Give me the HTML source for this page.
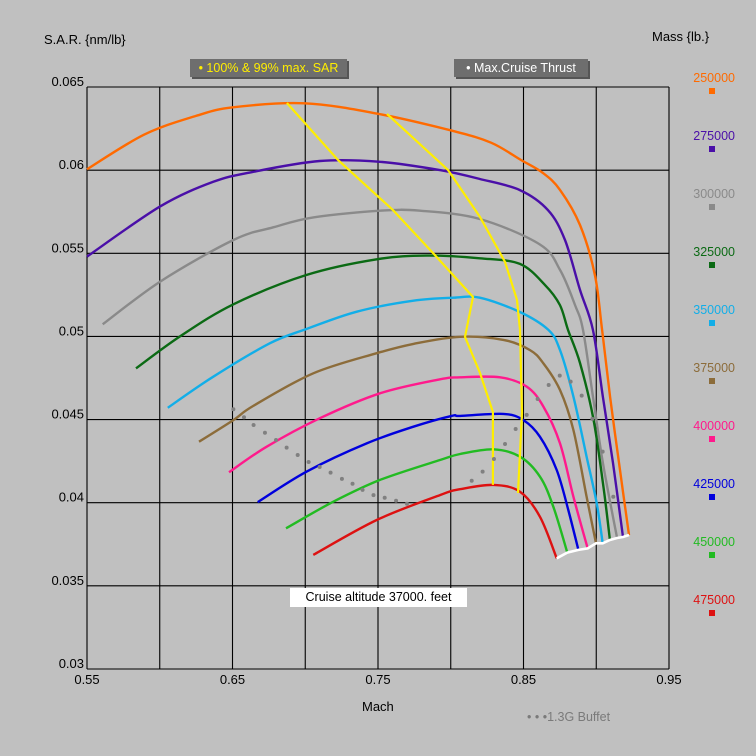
<!DOCTYPE html>
<html><head><meta charset="utf-8">
<style>
html,body{margin:0;padding:0;background:#c0c0c0;}
svg{display:block;font-family:"Liberation Sans",sans-serif;}
</style></head>
<body>
<svg id="chart" width="756" height="756" viewBox="0 0 756 756">
<rect width="756" height="756" fill="#c0c0c0"/>
<g id="grid"></g>
<g id="series"></g>
<g id="labels"></g>
</svg>
<script>
const xTicks=[0.55,0.60,0.65,0.70,0.75,0.80,0.85,0.90,0.95];
const xTickLabels=["0.55","","0.65","","0.75","","0.85","","0.95"];
const yTicks=[0.03,0.035,0.04,0.045,0.05,0.055,0.06,0.065];
const yTickLabels=["0.03","0.035","0.04","0.045","0.05","0.055","0.06","0.065"];
const masses=["250000","275000","300000","325000","350000","375000","400000","425000","450000","475000"];
const colors=["#ff6a00","#4a0fa8","#8a8a8a","#0b6a14","#12aee8","#8c6c3a","#ff1a8c","#0000dd","#22bb22","#dd1111"];
const m250=[0.55,0.5892,0.6249,0.6503,0.6995,0.75,0.8009,0.8277,0.8483,0.8634,0.8751,0.8888,0.8991,0.904,0.9095,0.9163,0.9225];
const s250=[0.06005,0.06213,0.06326,0.06378,0.06402,0.06339,0.06237,0.06165,0.06061,0.05983,0.05881,0.0567,0.05369,0.05039,0.04636,0.04197,0.03806];
const m275=[0.55,0.600,0.6368,0.6643,0.710,0.7514,0.7926,0.820,0.8475,0.8668,0.8785,0.8888,0.8977,0.9046,0.9115,0.9184];
const s275=[0.0548,0.0578,0.0593,0.0599,0.06055,0.0605,0.0600,0.05947,0.0588,0.0576,0.0558,0.0528,0.0504,0.04636,0.04239,0.03794];
const m300=[0.5608,0.6002,0.6506,0.678,0.7055,0.7514,0.7789,0.82,0.8613,0.8751,0.8854,0.8909,0.8978,0.9046,0.9143];
const s300=[0.05073,0.05329,0.0558,0.05656,0.05716,0.05756,0.05756,0.05706,0.05553,0.054,0.05189,0.05039,0.04636,0.04239,0.03788];
const m325=[0.5837,0.6139,0.6506,0.701,0.7491,0.7835,0.82,0.8475,0.8647,0.875,0.8806,0.8888,0.8978,0.9046,0.9094];
const s325=[0.04808,0.05,0.05193,0.0537,0.05464,0.05486,0.0547,0.05436,0.0531,0.05189,0.05039,0.0484,0.04516,0.04119,0.03776];
const m350=[0.6055,0.6368,0.6758,0.701,0.7354,0.7743,0.8018,0.82,0.8475,0.8671,0.8751,0.8843,0.8934,0.9003,0.9044];
const s350=[0.04571,0.04758,0.04959,0.05045,0.05149,0.05215,0.05233,0.05233,0.05147,0.05039,0.04918,0.04638,0.04277,0.03997,0.03756];
const m375=[0.627,0.6506,0.6643,0.7055,0.7491,0.7743,0.8064,0.8362,0.8545,0.8637,0.8751,0.8843,0.8934,0.8998];
const s375=[0.04367,0.04497,0.04582,0.04778,0.04899,0.04955,0.04998,0.04979,0.04918,0.04838,0.04678,0.04437,0.04036,0.03756];
const m400=[0.6476,0.6735,0.7101,0.7514,0.7926,0.8064,0.8339,0.8522,0.8637,0.8751,0.8843,0.8941];
const s400=[0.04183,0.04337,0.04508,0.04658,0.04742,0.04754,0.04754,0.04698,0.04578,0.04357,0.04036,0.03725];
const m425=[0.6673,0.701,0.7422,0.7743,0.8006,0.8064,0.8362,0.8499,0.8613,0.8728,0.8808,0.8877];
const s425=[0.04003,0.04187,0.04357,0.04457,0.04522,0.04522,0.04534,0.04497,0.04397,0.04197,0.03956,0.03716];
const m450=[0.6868,0.7193,0.7514,0.7926,0.8064,0.8293,0.8476,0.8613,0.8705,0.8801];
const s450=[0.03846,0.04006,0.04137,0.04257,0.04293,0.04321,0.04277,0.04157,0.03976,0.037];
const m475=[0.7055,0.7491,0.7926,0.8064,0.8293,0.8476,0.8613,0.8728];
const s475=[0.03686,0.03896,0.04046,0.04081,0.04107,0.04066,0.03916,0.03666];
const machSeries=[m250,m275,m300,m325,m350,m375,m400,m425,m450,m475];
const sarSeries=[s250,s275,s300,s325,s350,s375,s400,s425,s450,s475];
const maxSarMach=[0.6874,0.7225,0.7603,0.7878,0.8153,0.8098,0.8201,0.829,0.829];
const maxSarVal=[0.06404,0.06061,0.0576,0.05502,0.05237,0.04997,0.0478,0.04546,0.04107];
const sar99Mach=[0.7562,0.7981,0.8201,0.8373,0.8455,0.8476,0.849,0.8462];
const sar99Val=[0.06338,0.06001,0.05718,0.05448,0.05219,0.05039,0.0454,0.04058];
const buffetMach=[0.6506,0.6579,0.6645,0.6723,0.6799,0.6872,0.6948,0.7023,0.7099,0.7174,0.7252,0.7325,0.7394,0.7469,0.7546,0.7624,0.7699,
 0.8144,0.8219,0.8297,0.8373,0.8446,0.8522,0.8597,0.8673,0.8749,0.8824,0.8900,0.8973,0.9044,0.9117];
const buffetSar=[0.04562,0.04514,0.04467,0.04421,0.04377,0.04331,0.04287,0.04245,0.04215,0.04181,0.04143,0.04114,0.04077,0.04046,0.0403,0.04012,0.03994,
 0.04132,0.04187,0.04263,0.04353,0.04443,0.04528,0.04624,0.04708,0.04764,0.04728,0.04644,0.04504,0.04307,0.04036];

const X0=87,X1=669,Y0=669,Y1=87;
function xs(m){return X0+(m-0.55)/0.4*(X1-X0);}
function ys(s){return Y0-(s-0.03)/0.035*(Y0-Y1);}
const NS="http://www.w3.org/2000/svg";
function mk(tag,attrs,parent){const e=document.createElementNS(NS,tag);for(const k in attrs)e.setAttribute(k,attrs[k]);parent.appendChild(e);return e;}
const grid=document.getElementById('grid'),ser=document.getElementById('series'),lab=document.getElementById('labels');

xTicks.forEach((t,i)=>{
 const l=mk('line',{x1:xs(t),x2:xs(t),y1:Y1,y2:Y0,stroke:'#000','stroke-width':1.1},grid);
 
 
 if(xTickLabels[i]){const tx=mk('text',{x:xs(t),y:Y0+15,'text-anchor':'middle','font-size':13,fill:'#000'},lab);tx.textContent=xTickLabels[i];
 
 }
});
yTicks.forEach((t,i)=>{
 const l=mk('line',{x1:X0,x2:X1,y1:ys(t),y2:ys(t),stroke:'#000','stroke-width':1.1},grid);
 
 
 const tx=mk('text',{x:X0-3,y:ys(t)-1,'text-anchor':'end','font-size':13,fill:'#000'},lab);tx.textContent=yTickLabels[i];
 
 
});

function pts(ma,sa){return ma.map((m,i)=>xs(m).toFixed(1)+','+ys(sa[i]).toFixed(1)).join(' ');}
function smooth(ma,sa){
 const P=ma.map((m,i)=>[xs(m),ys(sa[i])]);
 let d='M'+P[0][0].toFixed(1)+','+P[0][1].toFixed(1);
 for(let i=0;i<P.length-1;i++){
  const p0=P[i-1]||P[i],p1=P[i],p2=P[i+1],p3=P[i+2]||P[i+1];
  const c1=[p1[0]+(p2[0]-p0[0])/6,p1[1]+(p2[1]-p0[1])/6];
  const c2=[p2[0]-(p3[0]-p1[0])/6,p2[1]-(p3[1]-p1[1])/6];
  d+=' C'+c1[0].toFixed(1)+','+c1[1].toFixed(1)+' '+c2[0].toFixed(1)+','+c2[1].toFixed(1)+' '+p2[0].toFixed(1)+','+p2[1].toFixed(1);
 }
 return d;
}
machSeries.forEach((ma,k)=>{
 const p=mk('path',{d:smooth(ma,sarSeries[k]),fill:'none',stroke:colors[k],'stroke-width':2.4,'stroke-linejoin':'round'},ser);
 
 
});
const ends=machSeries.map((ma,k)=>[ma[ma.length-1],sarSeries[k][sarSeries[k].length-1]]);
const thr=mk('polyline',{points:pts(ends.map(e=>e[0]),ends.map(e=>e[1])),fill:'none',stroke:'#fff','stroke-width':2.6},ser);


const y1=mk('polyline',{points:pts(maxSarMach,maxSarVal),fill:'none',stroke:'#ffee00','stroke-width':2.2},ser);


const y2=mk('polyline',{points:pts(sar99Mach,sar99Val),fill:'none',stroke:'#ffee00','stroke-width':2.2},ser);


buffetMach.forEach((m,i)=>{
 const c=mk('circle',{cx:xs(m),cy:ys(buffetSar[i]),r:2,fill:'#808080'},ser);
 
 
});

masses.forEach((mv,k)=>{
 const yy=78+k*58;
 const t=mk('text',{x:735,y:yy+4,'text-anchor':'end','font-size':12.5,fill:colors[k]},lab);t.textContent=mv;
 
 
 const r=mk('rect',{x:709,y:yy+10,width:6,height:6,fill:colors[k]},lab);
 
 
});
</script>
<div style="position:absolute;left:0;top:0;width:756px;height:756px;pointer-events:none;font-family:'Liberation Sans',sans-serif;font-size:13px;">
 <div style="position:absolute;left:44px;top:32px;">S.A.R. {nm/lb}</div>
 <div style="position:absolute;left:652px;top:29px;">Mass {lb.}</div>
 <div style="position:absolute;left:362px;top:699px;">Mach</div>
 <div style="position:absolute;left:190px;top:59px;width:157px;height:18px;background:#6e6e6e;box-shadow:2px 2px 0 #555;color:#ffee00;line-height:18px;text-align:center;font-size:12.5px;">• 100% &amp; 99% max. SAR</div>
 <div style="position:absolute;left:454px;top:59px;width:134px;height:18px;background:#6e6e6e;box-shadow:2px 2px 0 #555;color:#fff;line-height:18px;text-align:center;font-size:12.5px;">• Max.Cruise Thrust</div>
 <div style="position:absolute;left:290px;top:588px;width:177px;height:19px;background:#fff;line-height:19px;text-align:center;font-size:12.5px;">Cruise altitude 37000. feet</div>
 <div style="position:absolute;left:527px;top:710px;color:#7a7a7a;font-size:12.5px;">• • •1.3G Buffet</div>
</div>
</body></html>
